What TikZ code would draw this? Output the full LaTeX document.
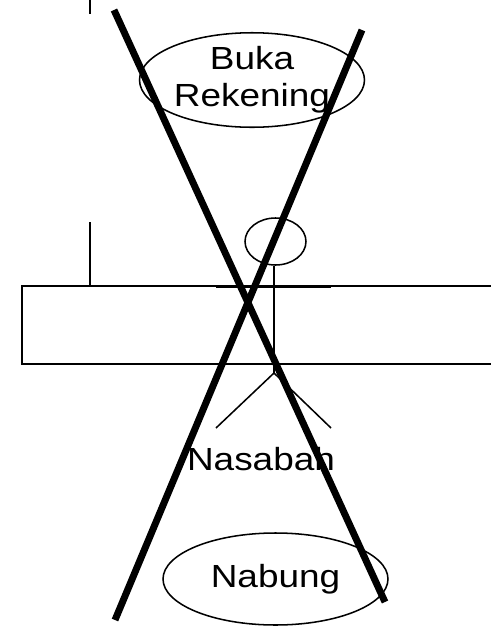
\documentclass[tikz,border=0pt]{standalone}
\usepackage{fontspec}
\setmainfont[FakeStretch=1.155]{Liberation Sans}
\usetikzlibrary{shapes.geometric}
\tikzset{
  thinline/.style={draw=black,line width=1.15pt},
  cross/.style={draw=black,line width=5.2pt},
  usecase/.style={ellipse,draw=black,line width=1.15pt,inner sep=0pt,align=center,
    font=\fontsize{24pt}{27.75pt}\selectfont},
  caption/.style={inner sep=0pt,font=\fontsize{24pt}{27.75pt}\selectfont,anchor=base}
}
\begin{document}
\begin{tikzpicture}[x=0.75pt,y=-0.75pt]
\useasboundingbox (0,0) rectangle (491,626);
\clip (0,0) rectangle (491,626);
% stray boundary
\coordinate (t1) at (90,0); \coordinate (t2) at (90,14);
\coordinate (b1) at (90,222); \coordinate (b2) at (90,286);
\draw[thinline] (t1) -- (t2);
\draw[thinline] (b1) -- (b2);
\coordinate (rtr) at (495,286); \coordinate (rtl) at (22,286);
\coordinate (rbl) at (22,364); \coordinate (rbr) at (495,364);
\draw[thinline] (rtr) -- (rtl) -- (rbl) -- (rbr);
% use cases
\node[usecase,minimum width=168.75pt,minimum height=70.5pt] (buka) at (252,80) {Buka\\Rekening};
\node[usecase,minimum width=168.75pt,minimum height=69pt] (nabung) at (275.5,579) {\raisebox{-3pt}{Nabung}};
% actor
\node[ellipse,draw=black,line width=1.15pt,minimum width=45.75pt,minimum height=35.25pt,inner sep=0pt] (head) at (275.5,241.5) {};
\coordinate (hip) at (274,373);
\coordinate (al) at (216,287); \coordinate (ar) at (331,287);
\coordinate (ll) at (216,428); \coordinate (lr) at (331,428);
\draw[thinline] (head.south -| hip) -- (hip);
\draw[thinline] (al) -- (ar);
\draw[thinline] (ll) -- (hip) -- (lr);
\node[caption] (nasabah) at (261,470) {Nasabah};
% big cross
\coordinate (c1) at (114,10); \coordinate (c2) at (385,602);
\coordinate (c3) at (362,30); \coordinate (c4) at (115,620);
\draw[cross] (c1) -- (c2);
\draw[cross] (c3) -- (c4);
\end{tikzpicture}
\end{document}
